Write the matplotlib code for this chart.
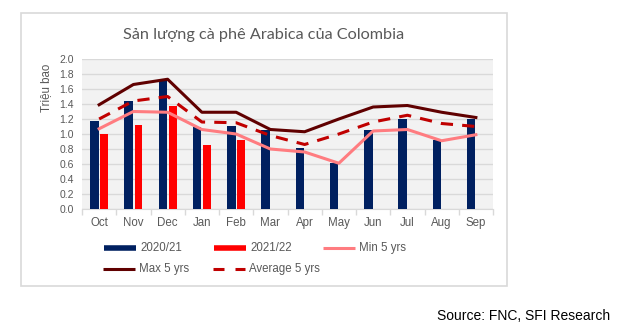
import matplotlib
matplotlib.use("Agg")
import matplotlib.pyplot as plt
import numpy as np
from matplotlib.lines import Line2D
from matplotlib.patches import Rectangle

months = ["Oct", "Nov", "Dec", "Jan", "Feb", "Mar", "Apr", "May", "Jun", "Jul", "Aug", "Sep"]
s2020_21 = [1.17, 1.44, 1.72, 1.09, 1.11, 1.06, 0.82, 0.61, 1.06, 1.20, 0.92, 1.20]
s2021_22 = [1.00, 1.12, 1.38, 0.86, 0.92]
min5 = [1.07, 1.30, 1.29, 1.06, 1.00, 0.80, 0.76, 0.61, 1.04, 1.06, 0.91, 0.99]
max5 = [1.39, 1.66, 1.73, 1.29, 1.29, 1.06, 1.03, 1.20, 1.36, 1.38, 1.29, 1.22]
avg5 = [1.20, 1.44, 1.50, 1.16, 1.15, 0.98, 0.86, 1.00, 1.16, 1.25, 1.14, 1.10]
yticks = [0.0, 0.2, 0.4, 0.6, 0.8, 1.0, 1.2, 1.4, 1.6, 1.8, 2.0]

NAVY = "#002060"
RED = "#FF0000"
MINC = "#FF7C80"
MAXC = "#600000"
AVGC = "#C00000"
TXT = "#595959"
FONT = "Liberation Sans"

W, H = 628, 327
fig = plt.figure(figsize=(W / 100, H / 100), dpi=100)

def fx(px):
    return px / W

def fy(py):
    return 1 - py / H

# chart border
fig.add_artist(Rectangle((fx(21), fy(286)), fx(507) - fx(21), fy(13) - fy(286),
                         transform=fig.transFigure, fill=False, edgecolor="#D9D9D9", lw=1.2))

ax = fig.add_axes([fx(82), fy(209), fx(493) - fx(82), fy(59) - fy(209)])
ax.set_facecolor("#F2F2F2")
x = np.arange(len(months))
bw = 0.25
ax.bar(x - 0.14, s2020_21, width=bw, color=NAVY, zorder=3)
ax.bar(np.arange(len(s2021_22)) + 0.15, s2021_22, width=0.22, color=RED, zorder=3)
ax.plot(x, min5, color=MINC, lw=2.2, zorder=4, solid_joinstyle="round")
ax.plot(x, max5, color=MAXC, lw=2.2, zorder=4)
ax.plot(x, avg5, color=AVGC, lw=2.2, ls=(0, (4, 3)), zorder=4)

ax.set_xlim(-0.5, len(months) - 0.5)
ax.set_ylim(0, 2.0)
ax.set_yticks(yticks)
ax.set_yticklabels([f"{v:.1f}" for v in yticks], fontsize=7.5, color=TXT, family=FONT)
ax.yaxis.grid(True, color="#D9D9D9", lw=1, zorder=0)
ax.tick_params(axis="y", length=0, pad=6)
ax.set_xticks(x)
ax.set_xticklabels(months, fontsize=8.3, color=TXT, family=FONT)
ax.set_xticks(np.arange(-0.5, len(months)), minor=True)
ax.tick_params(axis="x", which="major", length=0, pad=6)
ax.tick_params(axis="x", which="minor", length=4, color="#D9D9D9", width=1)
for s in ["left", "right", "top"]:
    ax.spines[s].set_visible(False)
ax.spines["bottom"].set_color("#D9D9D9")
ax.set_axisbelow(True)

fig.text(fx(264), fy(35), "Sản lượng cà phê Arabica của Colombia", ha="center", va="center",
         fontsize=11.7, color=TXT, family="Lato")
fig.text(fx(46), fy(88), "Triệu bao", rotation=90, ha="center", va="center",
         fontsize=8.3, color=TXT, family=FONT)

# legend (manual)
entries = [
    (104, 248, "2020/21", dict(color=NAVY, lw=4, solid_capstyle="butt")),
    (214, 248, "2021/22", dict(color=RED, lw=4, solid_capstyle="butt")),
    (323, 248, "Min 5 yrs", dict(color=MINC, lw=2.2, solid_capstyle="butt")),
    (103, 269, "Max 5 yrs", dict(color=MAXC, lw=2.2, solid_capstyle="butt")),
    (213, 269, "Average 5 yrs", dict(color=AVGC, lw=2.2, ls=(0, (3.6, 3.6)), dash_capstyle="butt")),
]
for px, py, label, kw in entries:
    fig.add_artist(Line2D([fx(px), fx(px + 32)], [fy(py), fy(py)], transform=fig.transFigure, **kw))
    fig.text(fx(px + 36), fy(py), label, ha="left", va="center", fontsize=8.3, color=TXT, family=FONT)

fig.text(fx(610), fy(316), "Source: FNC, SFI Research", ha="right", va="center",
         fontsize=10, color="black", family=FONT)

fig.savefig("out.png", dpi=100)
